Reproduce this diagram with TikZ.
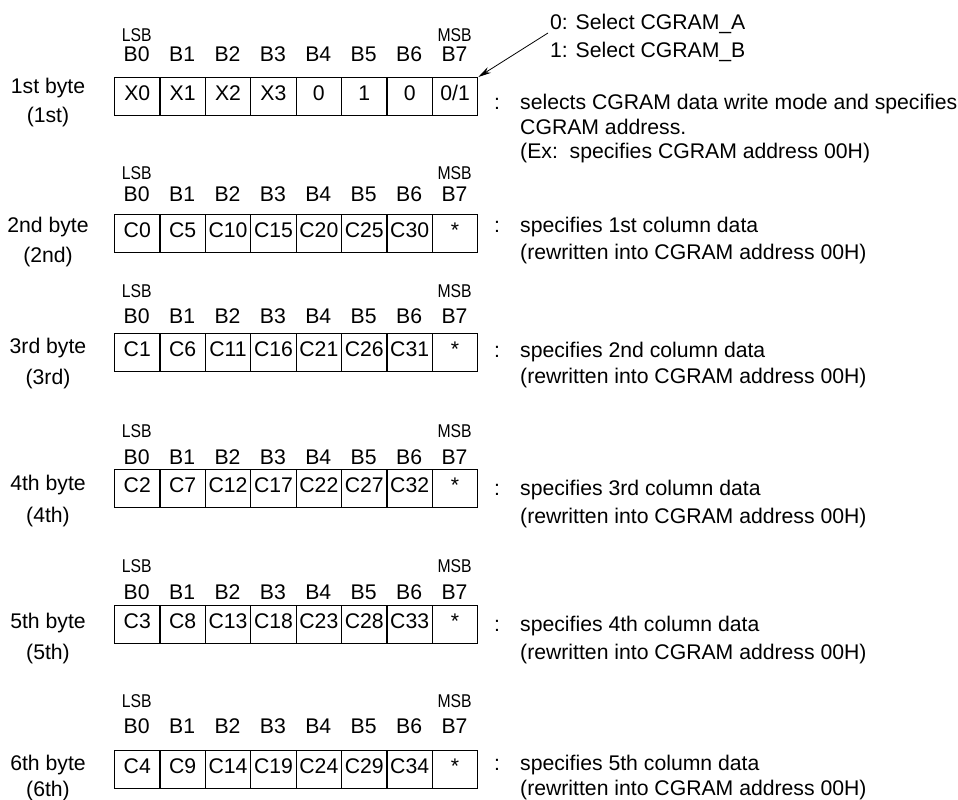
\documentclass[tikz,border=0pt]{standalone}
\usepackage{fontspec}
\setmainfont{Liberation Sans}
\newfontfamily\condfont[FakeStretch=0.85]{Liberation Sans}
\usetikzlibrary{arrows.meta}
\tikzset{
  txt/.style={font=\fontsize{21.2}{25}\selectfont, inner sep=0pt},
  smalltxt/.style={font=\condfont\fontsize{18.5}{21}\selectfont, inner sep=0pt},
  cell/.style={draw, line width=1.1pt, minimum width=45.4pt, minimum height=38pt,
    inner sep=0pt, text height=10.5pt, text depth=3.5pt,
    font=\fontsize{21.2}{25}\selectfont, anchor=north west},
  pointer/.style={-{Stealth[length=13pt,width=6.5pt]}, line width=0.8pt},
}
% #1 id, #2 box top, #3 LSB y, #4 B y, #5 label y, #6 paren y, #7 ordinal, #8 cells
\newcommand\byterow[8]{%
  \foreach \c [count=\i from 0] in {#8} {
    \node[cell] (r#1c\i) at ({114+45.4*\i},#2) {\c};
  }
  \foreach \i in {0,...,7} {
    \node[txt,anchor=base] (b#1n\i) at ({136.7+45.4*\i},{#4+7.6}) {B\i};
  }
  \node[smalltxt,anchor=base] (lsb#1) at (136.7,{#3+6.6}) {LSB};
  \node[smalltxt,anchor=base] (msb#1) at (454.6,{#3+6.6}) {MSB};
  \node[txt,anchor=base] (lb#1) at (48,{#5+7.6}) {#7 byte};
  \node[txt,anchor=base] (lp#1) at (48,{#6+7.6}) {(#7)};
}
\begin{document}
\begin{tikzpicture}[x=1pt,y=-1pt]
\useasboundingbox (0,0) rectangle (958,800);

\byterow{1}{77}{35}{54}{86}{115}{1st}{X0,X1,X2,X3,0,1,0,0/1}
\byterow{2}{214}{173}{194}{225}{255}{2nd}{C0,C5,C10,C15,C20,C25,C30,*}
\byterow{3}{333}{291}{316}{346}{377}{3rd}{C1,C6,C11,C16,C21,C26,C31,*}
\byterow{4}{469}{431}{457}{483}{515}{4th}{C2,C7,C12,C17,C22,C27,C32,*}
\byterow{5}{605}{566}{592}{621}{652}{5th}{C3,C8,C13,C18,C23,C28,C33,*}
\byterow{6}{750}{701}{726}{762.5}{789}{6th}{C4,C9,C14,C19,C24,C29,C34,*}

% annotation for B7 of 1st byte
\node[txt,anchor=base west] (selA) at (550,29.6) {0: Select CGRAM\_A};
\node[txt,anchor=base west] (selB) at (550,57.6) {1: Select CGRAM\_B};
\coordinate (arrstart) at (548,33);
\draw[pointer] (arrstart) -- (r1c7.north east);

% right-hand descriptions
\node[txt,anchor=base] (col1) at (497,109) {:};
\node[txt,anchor=base west] (rt1a) at (520,109) {selects CGRAM data write mode and specifies};
\node[txt,anchor=base west] (rt1b) at (520,134) {CGRAM address.};
\node[txt,anchor=base west] (rt1c) at (520,158) {(Ex:\ \ specifies CGRAM address 00H)};

\node[txt,anchor=base] (col2) at (497,232.6) {:};
\node[txt,anchor=base west] (rt2a) at (520,232.6) {specifies 1st column data};
\node[txt,anchor=base west] (rt2b) at (520,259.3) {(rewritten into CGRAM address 00H)};

\node[txt,anchor=base] (col3) at (497,357.1) {:};
\node[txt,anchor=base west] (rt3a) at (520,357.1) {specifies 2nd column data};
\node[txt,anchor=base west] (rt3b) at (520,383.6) {(rewritten into CGRAM address 00H)};

\node[txt,anchor=base] (col4) at (497,495.1) {:};
\node[txt,anchor=base west] (rt4a) at (520,495.1) {specifies 3rd column data};
\node[txt,anchor=base west] (rt4b) at (520,523.6) {(rewritten into CGRAM address 00H)};

\node[txt,anchor=base] (col5) at (497,631.6) {:};
\node[txt,anchor=base west] (rt5a) at (520,631.6) {specifies 4th column data};
\node[txt,anchor=base west] (rt5b) at (520,659.6) {(rewritten into CGRAM address 00H)};

\node[txt,anchor=base] (col6) at (497,770.6) {:};
\node[txt,anchor=base west] (rt6a) at (520,770.6) {specifies 5th column data};
\node[txt,anchor=base west] (rt6b) at (520,795) {(rewritten into CGRAM address 00H)};
\end{tikzpicture}
\end{document}
